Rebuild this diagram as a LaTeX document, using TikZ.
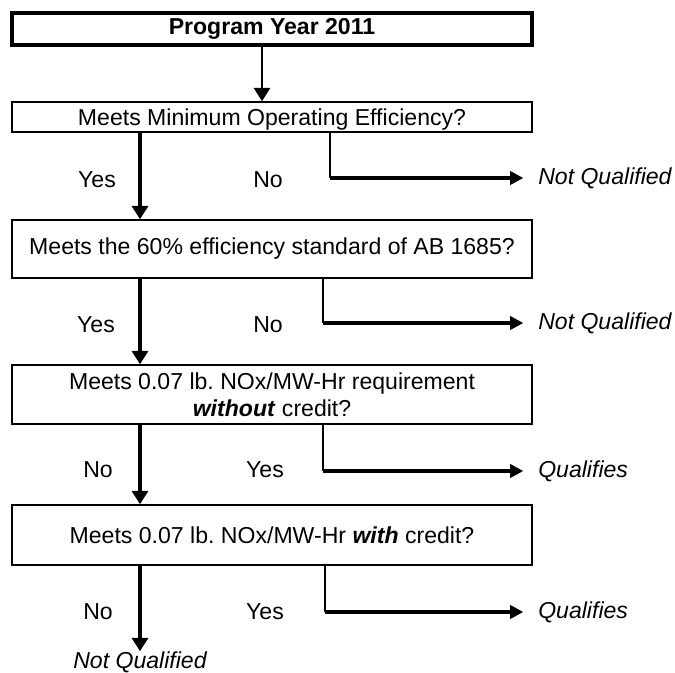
\documentclass[tikz,border=0pt]{standalone}
\usepackage{fontspec}
\setmainfont{Liberation Sans}
\usetikzlibrary{arrows.meta}

\begin{document}
\begin{tikzpicture}[x=0.75pt,y=0.75pt,yscale=-1,xscale=1,
  every node/.style={font=\fontsize{17.3}{20.5}\selectfont},
  qbox/.style={draw, line width=1.1pt, minimum width=390pt, inner sep=0pt, align=center},
  outcome/.style={inner sep=0pt, font=\fontsize{17.3}{20.5}\selectfont\itshape},
  answer/.style={inner sep=0pt},
  mainarrow/.style={line width=3.4pt, -{Triangle[length=10pt,width=12pt]}},
  branchline/.style={line width=1.1pt},
  brancharrow/.style={line width=2.4pt, -{Triangle[length=10pt,width=10pt]}, shorten >=11pt}
]
\useasboundingbox (0,0) rectangle (675,673);

%Shape: Rectangle [title]
\node[qbox, line width=2.3pt, minimum height=24pt, font=\fontsize{17.3}{20.5}\selectfont\bfseries] (title) at (272,29) {Program Year 2011};
%Shape: Rectangle [questions]
\node[qbox, minimum height=22.5pt, text depth=0pt] (mineff) at (272,117) {Meets Minimum Operating Efficiency?};
\node[qbox, minimum height=43.5pt] (std) at (272,249) {Meets the 60\% efficiency standard of AB 1685?};
\node[qbox, minimum height=44.25pt] (nocredit) at (272,394.5) {Meets 0.07 lb.\ NOx/MW-Hr requirement\\\textbf{\textit{without}} credit?};
\node[qbox, minimum height=45pt] (credit) at (272,535) {Meets 0.07 lb.\ NOx/MW-Hr \textbf{\textit{with}} credit?};

% columns of the connectors
\coordinate (mainx) at (140,0);
\coordinate (titlex) at (262,0);
\coordinate (brA) at (330,0);
\coordinate (brB) at (323,0);
\coordinate (brC) at (323,0);
\coordinate (brD) at (325,0);

% Text Node
\node[answer] (yesA) at (97,180) {Yes};
\node[answer] (noA) at (268,180) {No};
\node[answer] (yesB) at (96,325) {Yes};
\node[answer] (noB) at (268,325) {No};
\node[answer] (noC) at (98,470) {No};
\node[answer] (yesC) at (265,470) {Yes};
\node[answer] (noD) at (98,612) {No};
\node[answer] (yesD) at (265,612) {Yes};
% Text Node
\node[outcome, anchor=west] (notqA) at (538,178) {Not Qualified};
\node[outcome, anchor=west] (notqB) at (538,323) {Not Qualified};
\node[outcome, anchor=west] (qualC) at (538,471) {Qualifies};
\node[outcome, anchor=west] (qualD) at (538,612) {Qualifies};
\node[outcome] (notqEnd) at (140,662) {Not Qualified};

%Down Arrows
\draw[mainarrow, line width=2pt] (title.south -| titlex) -- (mineff.north -| titlex);
\draw[mainarrow] (mineff.south -| mainx) -- (std.north -| mainx);
\draw[mainarrow] (std.south -| mainx) -- (nocredit.north -| mainx);
\draw[mainarrow] (nocredit.south -| mainx) -- (credit.north -| mainx);
\draw[mainarrow] (credit.south -| mainx) -- (notqEnd.north);

%Side branches
\draw[branchline] (mineff.south -| brA) -- (brA |- notqA);
\draw[brancharrow] (brA |- notqA) -- (notqA.west);
\draw[branchline] (std.south -| brB) -- (brB |- notqB);
\draw[brancharrow] (brB |- notqB) -- (notqB.west);
\draw[branchline] (nocredit.south -| brC) -- (brC |- qualC);
\draw[brancharrow] (brC |- qualC) -- (qualC.west);
\draw[branchline] (credit.south -| brD) -- (brD |- qualD);
\draw[brancharrow] (brD |- qualD) -- (qualD.west);

\end{tikzpicture}
\end{document}
